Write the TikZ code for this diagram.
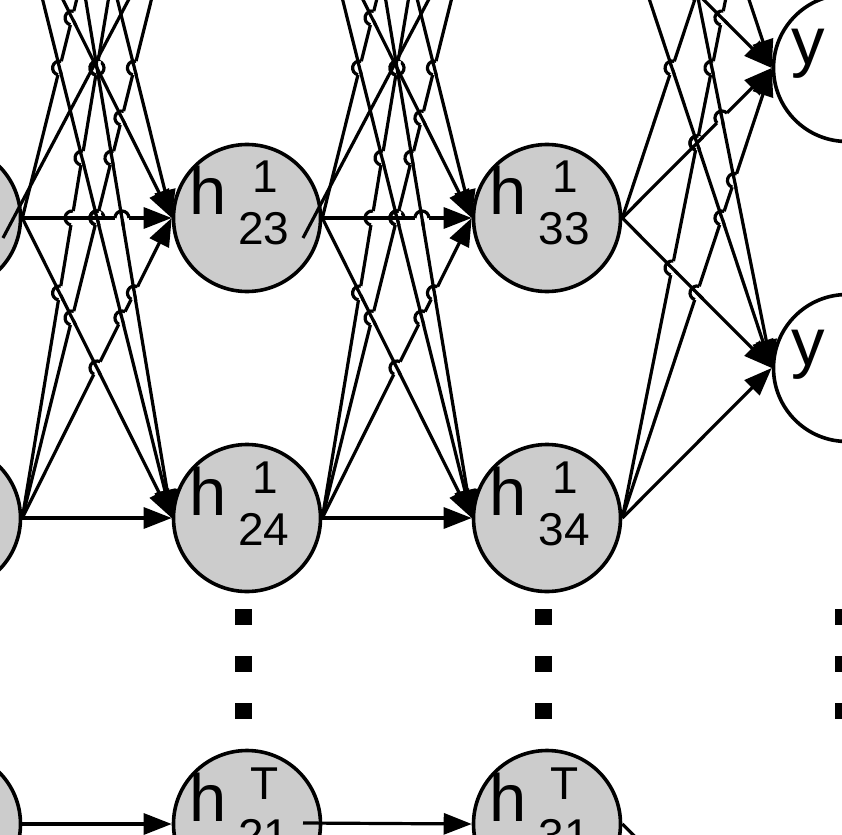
\documentclass[tikz,border=0pt]{standalone}
\usepackage{fontspec}
\setmainfont{Liberation Sans}
\usepackage{tikz}
\usetikzlibrary{arrows.meta}
\definecolor{hidgray}{HTML}{CCCCCC}
% label h^{sup}_{sub}, placed round the node centre
\newcommand{\hlab}[2]{\makebox[0pt]{\smash{%
\raisebox{3pt}{\makebox[0pt][l]{\kern-58pt\fontsize{67pt}{67pt}\selectfont h}}%
\raisebox{25pt}{\makebox[0pt]{\kern36pt\fontsize{46pt}{46pt}\selectfont #1}}%
\raisebox{-27pt}{\makebox[0pt]{\kern34pt\fontsize{46pt}{46pt}\selectfont #2}}}}}
\newcommand{\ylab}{\makebox[0pt]{\smash{%
\raisebox{3pt}{\makebox[0pt][l]{\kern-56pt\fontsize{67pt}{67pt}\selectfont y}}}}}
\def\jr{7}
% line jump where edge yi->yj crosses the earlier edge yp->yq
\newcommand{\crossat}[6]{%
\pgfmathsetmacro{\dA}{#4-#3}\pgfmathsetmacro{\dB}{#6-#5}%
\pgfmathtruncatemacro{\ok}{abs(\dA-\dB)>0.5}%
\ifnum\ok=1
\pgfmathsetmacro{\sC}{(#5-#3)/(\dA-\dB)}%
\pgfmathtruncatemacro{\ok}{(\sC>0.03)&&(\sC<0.97)}%
\ifnum\ok=1
\pgfmathsetmacro{\px}{#1+\sC*#2}\pgfmathsetmacro{\py}{#3+\sC*\dA}%
\pgfmathsetmacro{\thA}{atan2(\dA,#2)}\pgfmathsetmacro{\thB}{atan2(\dB,#2)}%
\ifnum\pass=1
\draw[jumperase]({\px-\jr*cos(\thA)},{\py-\jr*sin(\thA)})--({\px+\jr*cos(\thA)},{\py+\jr*sin(\thA)});
\else
\draw[jumpline]({\px-(\jr+1)*cos(\thB)},{\py-(\jr+1)*sin(\thB)})--({\px+(\jr+1)*cos(\thB)},{\py+(\jr+1)*sin(\thB)});
\draw[jumpline]({\px-\jr*cos(\thA)},{\py-\jr*sin(\thA)})arc[start angle=\thA+180,end angle=\thA,radius=\jr];
\fi
\fi
\fi}
% all edges from one column to the next, later ones jumping the earlier
\newcommand{\layer}[6]{%
\foreach \i/\yi in {#3}
\foreach \j/\yj in {#4}{%
\ifnum\i\j=#6\else
\draw[conn](#1\i.east)--(#2\j.west);
\foreach \pass in {1,2}
\foreach \p/\yp in {#3}{\ifnum\p<\i
\foreach \q/\yq in {#4}{\ifnum\p\q=#6\else\crossat{#5}{149.7}{\yi}{\yj}{\yp}{\yq}\fi}\fi}%
\fi}}
\begin{document}
\begin{tikzpicture}[x=1pt,y=1pt,>={Triangle[length=28pt,width=21pt]},
neuron/.style={circle,draw,line width=3.6pt,fill=hidgray,minimum size=147pt,inner sep=0pt},
outneuron/.style={neuron,fill=white},
conn/.style={->,line width=3.2pt},
jumperase/.style={white,line width=5.4pt},
jumpline/.style={line width=3.2pt},
vdots/.style={line width=17pt,dash pattern=on 16pt off 31pt}]
\useasboundingbox(0,0)rectangle(842,-834);
\clip(0,0)rectangle(842,-834);
% hidden units, step 1
\foreach \r/\y in {1/382,2/82,3/-218,4/-518}{
\node[neuron](a\r)at(-53,\y){};
\node[neuron](b\r)at(247,\y){};
\node[neuron](c\r)at(547,\y){};
}
\node at(b3){\hlab{1}{23}};
\node at(b4){\hlab{1}{24}};
\node at(c3){\hlab{1}{33}};
\node at(c4){\hlab{1}{34}};
% hidden units, step T
\node[neuron](aT)at(-53,-824){};
\node[neuron](bT)at(247,-824){\hlab{T}{21}};
\node[neuron](cT)at(547,-824){\hlab{T}{31}};
% outputs
\foreach \k/\y in {1/232,2/-68,3/-368}
\node[outneuron](y\k)at(847,\y){};
\node at(y2){\ylab};
\node at(y3){\ylab};
\node[outneuron](yT)at(847,-974){};
% connections
\layer{a}{b}{1/382,2/82,3/-218,4/-518}{1/382,2/82,3/-218,4/-518}{22.15}{32}
\layer{b}{c}{1/382,2/82,3/-218,4/-518}{1/382,2/82,3/-218,4/-518}{322.15}{32}
\layer{c}{y}{1/382,2/82,3/-218,4/-518}{1/232,2/-68,3/-368}{622.15}{99}
\coordinate(a3s)at([shift={(56,-20)}]a3.center);
\coordinate(b3s)at([shift={(56,-20)}]b3.center);
\coordinate(bTs)at([shift={(56,1)}]bT.center);
\draw[conn](a3s)--(b2.west);
\draw[conn](b3s)--(c2.west);
\draw[conn](aT.east)--(bT.west);
\draw[conn](bTs)--(cT.west);
\draw[conn](cT.east)--(yT.west);
% dots
\foreach \x in {243.5,543.5,843.5}
\draw[vdots](\x,-609)--(\x,-719);
\end{tikzpicture}
\end{document}
